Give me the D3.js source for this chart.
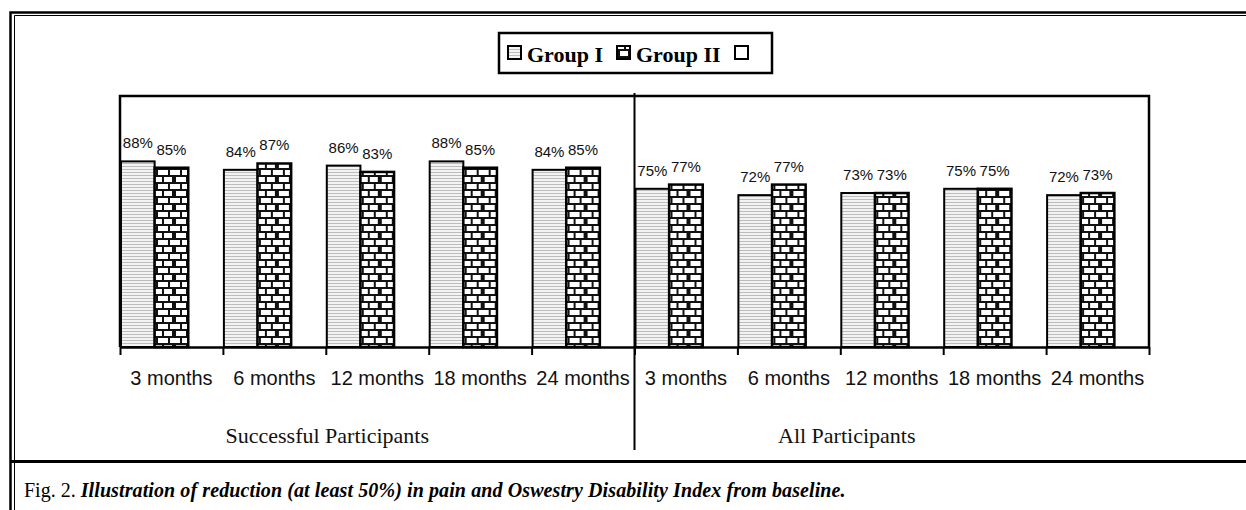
<!DOCTYPE html>
<html>
<head>
<meta charset="utf-8">
<script src="https://cdn.jsdelivr.net/npm/d3@7"></script>
<style>
  body { margin: 0; background: #fff; }
  svg { display: block; }
</style>
</head>
<body>
<div class="chart"></div>
<script>
// ------------------------------------------------------------------
// Data
var periods = ["3 months", "6 months", "12 months", "18 months", "24 months"];
var panels = ["Successful Participants", "All Participants"];
var seriesNames = ["Group I", "Group II", ""];
var groupI_successful = [88, 84, 86, 88, 84];
var groupII_successful = [85, 87, 83, 85, 85];
var groupI_all = [75, 72, 73, 75, 72];
var groupII_all = [77, 77, 73, 75, 73];
var captionLead = "Fig. 2.";
var captionText = "Illustration of reduction (at least 50%) in pain and Oswestry Disability Index from baseline.";

// ------------------------------------------------------------------
// Global var
var width = 1246, height = 510;
var plotLeft = 120, plotRight = 1149, plotTop = 96, plotBottom = 347;

var cats = [];
for (var p = 0; p < panels.length; p++) {
  for (var i = 0; i < periods.length; i++) {
    cats.push({
      label: periods[i],
      panel: p,
      g1: p == 0 ? groupI_successful[i] : groupI_all[i],
      g2: p == 0 ? groupII_successful[i] : groupII_all[i]
    });
  }
}

var svg = d3.select(".chart").append("svg")
  .attr("width", width)
  .attr("height", height);

// patterns
var defs = svg.append("defs");
var stripe = defs.append("pattern")
  .attr("id", "stripes")
  .attr("patternUnits", "userSpaceOnUse")
  .attr("width", 6).attr("height", 3);
stripe.append("rect").attr("width", 6).attr("height", 3).attr("fill", "#f3f3f3");
stripe.append("rect").attr("y", 1).attr("width", 6).attr("height", 1).attr("fill", "#bcbcbc");

var brick = defs.append("pattern")
  .attr("id", "bricks")
  .attr("patternUnits", "userSpaceOnUse")
  .attr("width", 24).attr("height", 14);
brick.append("rect").attr("width", 24).attr("height", 14).attr("fill", "#111");
[[2, 2, 10], [14, 2, 10], [0, 9, 4], [8, 9, 10], [20, 9, 4]].forEach(function (b) {
  brick.append("rect").attr("x", b[0]).attr("y", b[1]).attr("width", b[2]).attr("height", 5).attr("fill", "#fff");
});

// ------------------------------------------------------------------
// Frame
svg.append("rect").attr("width", width).attr("height", height).attr("fill", "#fff");
svg.append("path").attr("d", "M10.5," + height + "V12.5H" + width)
  .attr("fill", "none").attr("stroke", "#000").attr("stroke-width", 2.5);
svg.append("path").attr("d", "M14.5," + height + "V15.5H" + width)
  .attr("fill", "none").attr("stroke", "#000").attr("stroke-width", 1);
svg.append("line").attr("x1", 10).attr("x2", width).attr("y1", 461.5).attr("y2", 461.5)
  .attr("stroke", "#000").attr("stroke-width", 3);

// ------------------------------------------------------------------
// Scales
var x = d3.scaleBand().domain(d3.range(cats.length)).range([plotLeft, plotRight]).padding(0);
var xEdge = d3.scaleLinear().domain([0, cats.length]).range([plotLeft, plotRight]);
var xs = d3.scaleBand().domain([0, 1, 2]).range([1, x.bandwidth() - 1]);
var y = d3.scaleLinear().domain([0, 119]).range([plotBottom, plotTop]);

// plot frame
svg.append("path")
  .attr("d", "M" + plotLeft + "," + plotBottom + "V" + plotTop + "H" + plotRight + "V" + plotBottom)
  .attr("fill", "none").attr("stroke", "#000").attr("stroke-width", 2.5);

var g = svg.selectAll(".cat")
  .data(cats)
  .enter().append("g")
  .attr("class", "cat")
  .attr("transform", function (d, i) { return "translate(" + x(i) + ",0)"; });

g.append("rect")
  .attr("x", xs(0)).attr("width", xs.bandwidth())
  .attr("y", function (d) { return y(d.g1); })
  .attr("height", function (d) { return plotBottom - y(d.g1); })
  .attr("fill", "url(#stripes)").attr("stroke", "#000").attr("stroke-width", 2);

g.append("rect")
  .attr("x", xs(1)).attr("width", xs.bandwidth())
  .attr("y", function (d) { return y(d.g2); })
  .attr("height", function (d) { return plotBottom - y(d.g2); })
  .attr("fill", "url(#bricks)").attr("stroke", "#000").attr("stroke-width", 2.5);

g.append("text")
  .attr("x", xs(0) + xs.bandwidth() / 2)
  .attr("y", function (d) { return y(d.g1) - 13; })
  .attr("text-anchor", "middle")
  .style("font", "15px 'Liberation Sans', Arial, sans-serif")
  .style("fill", "#111")
  .text(function (d) { return d.g1 + "%"; });

g.append("text")
  .attr("x", xs(1) + xs.bandwidth() / 2)
  .attr("y", function (d) { return y(d.g2) - 13; })
  .attr("text-anchor", "middle")
  .style("font", "15px 'Liberation Sans', Arial, sans-serif")
  .style("fill", "#111")
  .text(function (d) { return d.g2 + "%"; });

// x axis, ticks on category edges
var axis = svg.append("g")
  .attr("transform", "translate(0," + plotBottom + ")")
  .call(d3.axisBottom(xEdge).tickValues(d3.range(cats.length + 1)).tickSize(8).tickSizeOuter(0).tickFormat(""));
axis.select(".domain").attr("stroke-width", 2.5);
axis.selectAll(".tick line").attr("stroke-width", 2);

g.append("text")
  .attr("x", x.bandwidth() / 2)
  .attr("y", 385)
  .attr("text-anchor", "middle")
  .style("font", "20px 'Liberation Sans', Arial, sans-serif")
  .style("fill", "#111")
  .text(function (d) { return d.label; });

// panel divider and titles
var mid = xEdge(periods.length);
svg.append("line")
  .attr("x1", mid).attr("x2", mid).attr("y1", plotTop - 3).attr("y2", 450)
  .attr("stroke", "#000").attr("stroke-width", 2);

svg.selectAll(".panel")
  .data(panels)
  .enter().append("text")
  .attr("class", "panel")
  .attr("x", function (d, i) { return xEdge(i * periods.length + 2) + 0.5 * x.bandwidth() - 50 + i * 5; })
  .attr("y", 443)
  .attr("text-anchor", "middle")
  .style("font", "22px 'Liberation Serif', 'Times New Roman', serif")
  .style("fill", "#111")
  .text(function (d) { return d; });

// ------------------------------------------------------------------
// Legend
var legend = svg.append("g");
legend.append("rect")
  .attr("x", 499).attr("y", 33).attr("width", 273).attr("height", 40)
  .attr("fill", "#fff").attr("stroke", "#000").attr("stroke-width", 2.5);
var legendX = [508, 617, 735];
var fills = ["url(#stripes)", "url(#bricks)", "#fff"];
for (var k = 0; k < seriesNames.length; k++) {
  legend.append("rect")
    .attr("x", legendX[k]).attr("y", 46).attr("width", 13).attr("height", 13)
    .attr("fill", fills[k]).attr("stroke", "#000").attr("stroke-width", 2);
  legend.append("text")
    .attr("x", legendX[k] + 19).attr("y", 62)
    .style("font", "bold 22px 'Liberation Serif', 'Times New Roman', serif")
    .text(seriesNames[k]);
}

// ------------------------------------------------------------------
// Caption
var cap = svg.append("text").attr("x", 24).attr("y", 497)
  .style("font", "20px 'Liberation Serif', 'Times New Roman', serif");
cap.append("tspan").text(captionLead + " ");
cap.append("tspan").style("font-style", "italic").style("font-weight", "bold")
  .style("letter-spacing", "0.1px").text(captionText);
</script>
</body>
</html>
